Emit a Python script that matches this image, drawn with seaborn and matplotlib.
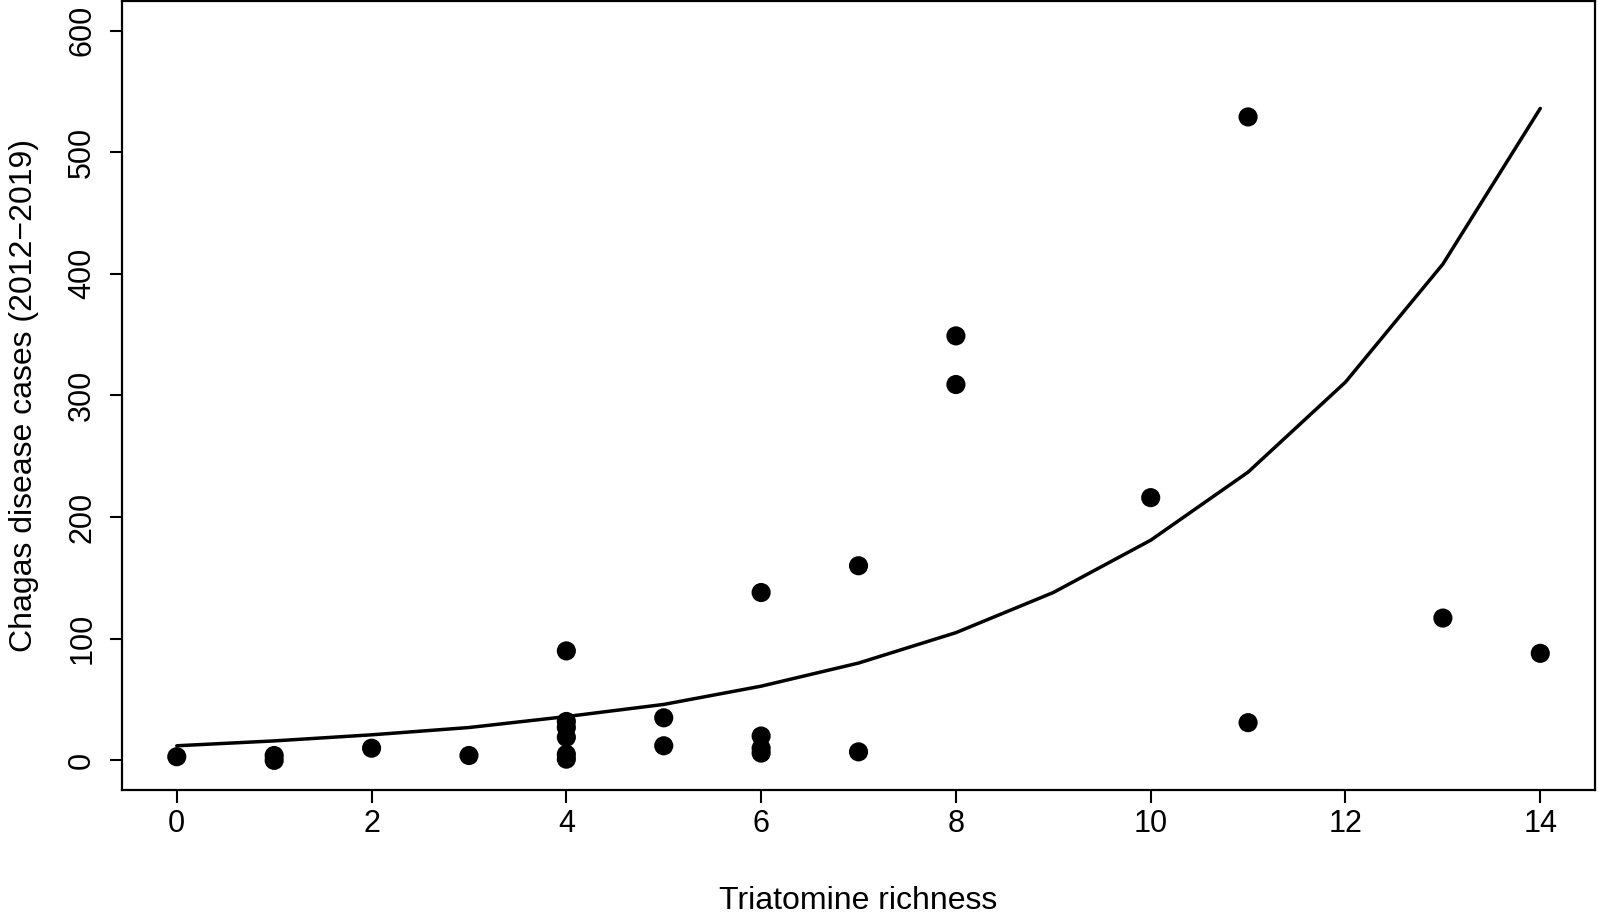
import matplotlib
matplotlib.use("Agg")
import matplotlib.pyplot as plt
import seaborn as sns
import pandas as pd

# Observed data
richness = [0, 1, 1, 2, 3, 4, 4, 4, 4, 4, 4, 5, 5, 6, 6, 6, 6, 7, 7, 8, 8, 10, 11, 11, 13, 14]
cases = [3, 4, 0, 10, 4, 90, 32, 27, 19, 5, 1, 35, 12, 138, 20, 10, 6, 160, 7, 349, 309, 216, 529, 31, 117, 88]

# Fitted curve
fit_x = [0, 1, 2, 3, 4, 5, 6, 7, 8, 9, 10, 11, 12, 13, 14]
fit_y = [12, 16, 21, 27, 36, 46, 61, 80, 105, 138, 181, 237, 311, 408, 536]

x_ticks = [0, 2, 4, 6, 8, 10, 12, 14]
y_ticks = [0, 100, 200, 300, 400, 500, 600]

sns.set_style("white")
plt.rcParams['font.family'] = ['Liberation Sans', 'DejaVu Sans']
plt.rcParams['text.color'] = 'black'
plt.rcParams['axes.labelcolor'] = 'black'

fig = plt.figure(figsize=(15.98, 9.24), dpi=100)
ax = fig.add_axes([0.0765, 0.1455, 0.9215, 0.853])

pts = pd.DataFrame({"richness": richness, "cases": cases})
fit = pd.DataFrame({"x": fit_x, "y": fit_y})

sns.lineplot(data=fit, x="x", y="y", ax=ax, color="black", linewidth=2.5, zorder=2)
sns.scatterplot(data=pts, x="richness", y="cases", ax=ax, color="black", s=190,
                edgecolor="none", zorder=3)

ax.set_xlim(-0.56, 14.56)
ax.set_ylim(-24, 624)
ax.set_xticks(x_ticks)
ax.set_yticks(y_ticks)
ax.set_xticklabels([str(v) for v in x_ticks], fontsize=22)
ax.set_yticklabels([str(v) for v in y_ticks], fontsize=22, rotation=90, va="center")
ax.tick_params(axis="x", direction="out", length=9, width=1.5, colors="black",
               bottom=True, pad=5)
ax.tick_params(axis="y", direction="out", length=9, width=1.5, colors="black",
               left=True, pad=9)
for sp in ax.spines.values():
    sp.set_linewidth(1.6)
    sp.set_color("black")
ax.set_xlabel("Triatomine richness", fontsize=23, labelpad=34)
ax.set_ylabel("Chagas disease cases (2012\u22122019)", fontsize=23, labelpad=20)

fig.savefig("out.png", dpi=100)
